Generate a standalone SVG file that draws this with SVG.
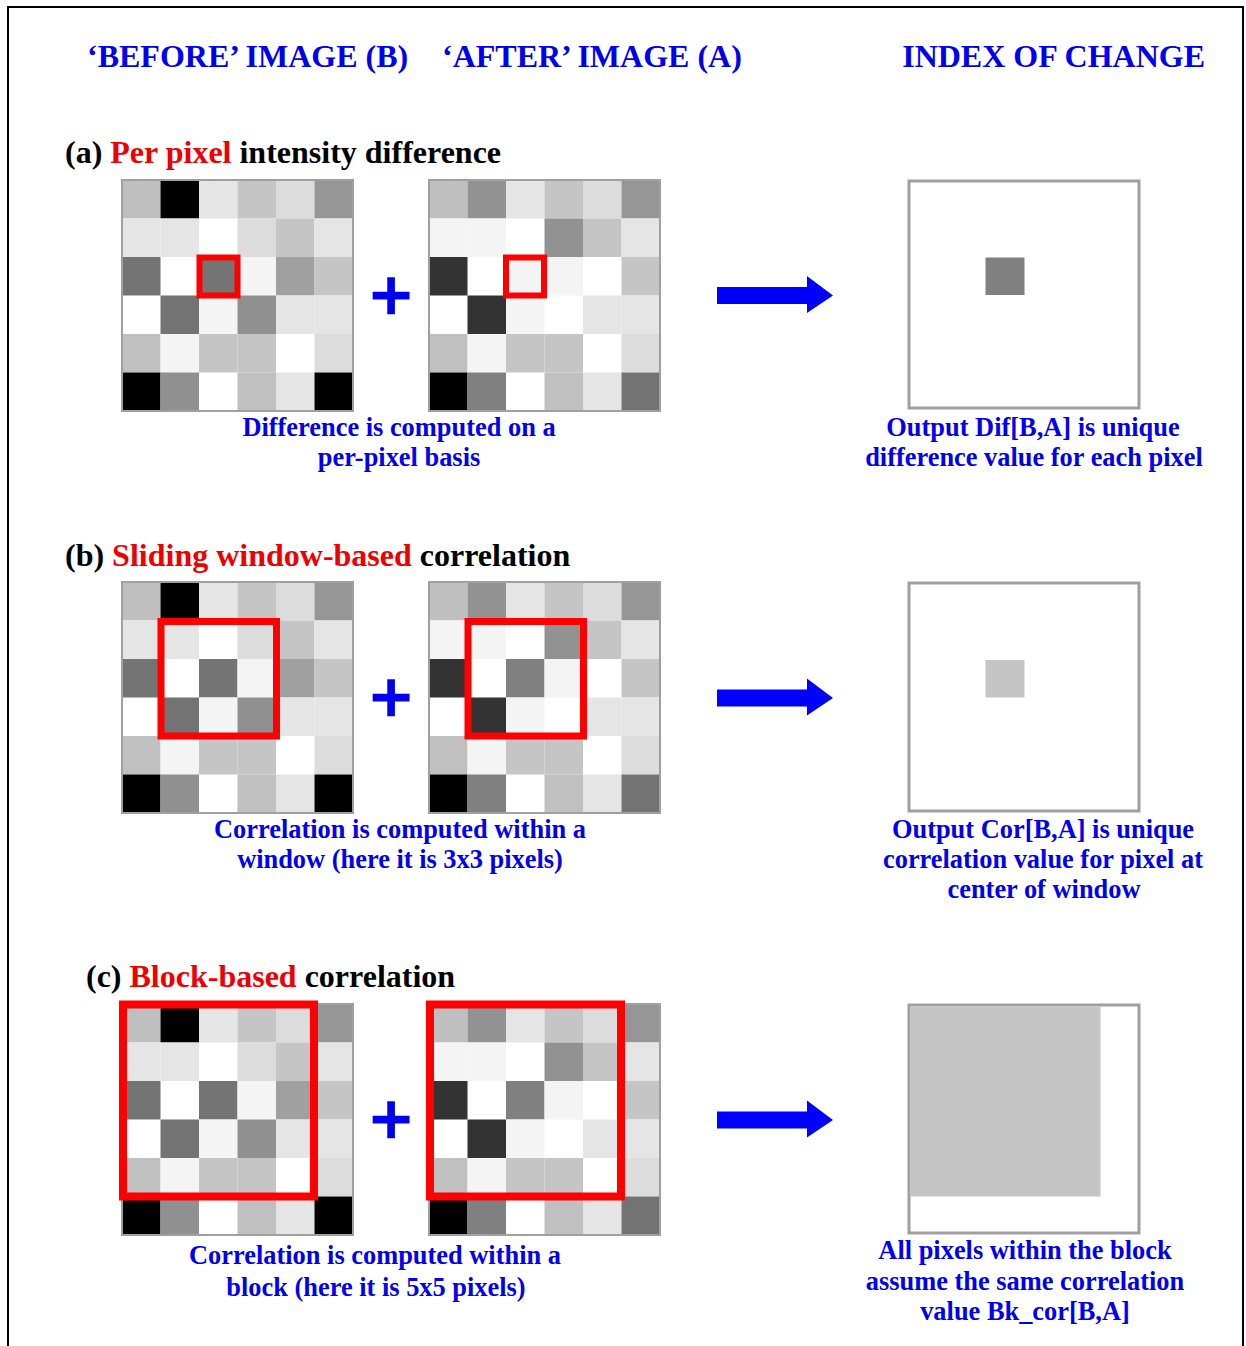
<svg xmlns="http://www.w3.org/2000/svg" xmlns:xlink="http://www.w3.org/1999/xlink" width="1246" height="1346" viewBox="0 0 1246 1346">
<style>
text{font-family:"Liberation Serif","Times New Roman",serif;font-weight:bold}
.hdr{font-size:32px;fill:#0000ee}
.ttl{font-size:32px;fill:#000}
.red{fill:#ee0000}
.cap{font-size:26.4px;fill:#0000ee;text-anchor:middle}
.plus{font-size:74px;fill:#0000ee;stroke:#0000ee;stroke-width:2.5;text-anchor:middle}
.gb{fill:none;stroke:#a0a0a0;stroke-width:2}
.win{fill:none;stroke:#ff0000}
.ob{fill:#fff;stroke:#a0a0a0;stroke-width:3}
.arr{fill:#0000ff}
</style>
<defs>
<g id="gridB">
<rect x="0" y="0" width="231" height="231" fill="#fff"/>
<rect x="0" y="0" width="38.5" height="38.5" fill="#bfbfbf"/>
<rect x="38.5" y="0" width="38.5" height="38.5" fill="#000"/>
<rect x="77" y="0" width="38.5" height="38.5" fill="#e5e5e5"/>
<rect x="115.5" y="0" width="38.5" height="38.5" fill="#c5c5c5"/>
<rect x="154" y="0" width="38.5" height="38.5" fill="#dcdcdc"/>
<rect x="192.5" y="0" width="38.5" height="38.5" fill="#969696"/>
<rect x="0" y="38.5" width="38.5" height="38.5" fill="#e5e5e5"/>
<rect x="38.5" y="38.5" width="38.5" height="38.5" fill="#e5e5e5"/>
<rect x="115.5" y="38.5" width="38.5" height="38.5" fill="#dcdcdc"/>
<rect x="154" y="38.5" width="38.5" height="38.5" fill="#c5c5c5"/>
<rect x="192.5" y="38.5" width="38.5" height="38.5" fill="#e5e5e5"/>
<rect x="0" y="77" width="38.5" height="38.5" fill="#747474"/>
<rect x="77" y="77" width="38.5" height="38.5" fill="#747474"/>
<rect x="115.5" y="77" width="38.5" height="38.5" fill="#f4f4f4"/>
<rect x="154" y="77" width="38.5" height="38.5" fill="#a0a0a0"/>
<rect x="192.5" y="77" width="38.5" height="38.5" fill="#c5c5c5"/>
<rect x="38.5" y="115.5" width="38.5" height="38.5" fill="#737373"/>
<rect x="77" y="115.5" width="38.5" height="38.5" fill="#f4f4f4"/>
<rect x="115.5" y="115.5" width="38.5" height="38.5" fill="#909090"/>
<rect x="154" y="115.5" width="38.5" height="38.5" fill="#e5e5e5"/>
<rect x="192.5" y="115.5" width="38.5" height="38.5" fill="#e5e5e5"/>
<rect x="0" y="154" width="38.5" height="38.5" fill="#c0c0c0"/>
<rect x="38.5" y="154" width="38.5" height="38.5" fill="#f4f4f4"/>
<rect x="77" y="154" width="38.5" height="38.5" fill="#c5c5c5"/>
<rect x="115.5" y="154" width="38.5" height="38.5" fill="#c5c5c5"/>
<rect x="192.5" y="154" width="38.5" height="38.5" fill="#dcdcdc"/>
<rect x="0" y="192.5" width="38.5" height="38.5" fill="#000"/>
<rect x="38.5" y="192.5" width="38.5" height="38.5" fill="#909090"/>
<rect x="115.5" y="192.5" width="38.5" height="38.5" fill="#c0c0c0"/>
<rect x="154" y="192.5" width="38.5" height="38.5" fill="#e5e5e5"/>
<rect x="192.5" y="192.5" width="38.5" height="38.5" fill="#000"/>
<rect class="gb" x="0" y="0" width="231" height="231"/>
</g>
<g id="gridA">
<rect x="0" y="0" width="231" height="231" fill="#fff"/>
<rect x="0" y="0" width="38.5" height="38.5" fill="#bfbfbf"/>
<rect x="38.5" y="0" width="38.5" height="38.5" fill="#929292"/>
<rect x="77" y="0" width="38.5" height="38.5" fill="#e5e5e5"/>
<rect x="115.5" y="0" width="38.5" height="38.5" fill="#c5c5c5"/>
<rect x="154" y="0" width="38.5" height="38.5" fill="#dcdcdc"/>
<rect x="192.5" y="0" width="38.5" height="38.5" fill="#969696"/>
<rect x="0" y="38.5" width="38.5" height="38.5" fill="#f4f4f4"/>
<rect x="38.5" y="38.5" width="38.5" height="38.5" fill="#f4f4f4"/>
<rect x="115.5" y="38.5" width="38.5" height="38.5" fill="#929292"/>
<rect x="154" y="38.5" width="38.5" height="38.5" fill="#c5c5c5"/>
<rect x="192.5" y="38.5" width="38.5" height="38.5" fill="#e5e5e5"/>
<rect x="0" y="77" width="38.5" height="38.5" fill="#333"/>
<rect x="77" y="77" width="38.5" height="38.5" fill="#808080"/>
<rect x="115.5" y="77" width="38.5" height="38.5" fill="#f4f4f4"/>
<rect x="192.5" y="77" width="38.5" height="38.5" fill="#c5c5c5"/>
<rect x="38.5" y="115.5" width="38.5" height="38.5" fill="#333"/>
<rect x="77" y="115.5" width="38.5" height="38.5" fill="#f4f4f4"/>
<rect x="154" y="115.5" width="38.5" height="38.5" fill="#e5e5e5"/>
<rect x="192.5" y="115.5" width="38.5" height="38.5" fill="#e5e5e5"/>
<rect x="0" y="154" width="38.5" height="38.5" fill="#c0c0c0"/>
<rect x="38.5" y="154" width="38.5" height="38.5" fill="#f4f4f4"/>
<rect x="77" y="154" width="38.5" height="38.5" fill="#c5c5c5"/>
<rect x="115.5" y="154" width="38.5" height="38.5" fill="#c5c5c5"/>
<rect x="192.5" y="154" width="38.5" height="38.5" fill="#dcdcdc"/>
<rect x="0" y="192.5" width="38.5" height="38.5" fill="#000"/>
<rect x="38.5" y="192.5" width="38.5" height="38.5" fill="#808080"/>
<rect x="115.5" y="192.5" width="38.5" height="38.5" fill="#c0c0c0"/>
<rect x="154" y="192.5" width="38.5" height="38.5" fill="#e5e5e5"/>
<rect x="192.5" y="192.5" width="38.5" height="38.5" fill="#737373"/>
<rect class="gb" x="0" y="0" width="231" height="231"/>
</g>
<path id="bigArrow" d="M0,-8.5 H90 V-19.5 L116,0 L90,17.5 V8.5 H0 Z"/>
</defs>

<g id="frame" fill="none" stroke="#000" stroke-width="2">
<path d="M8,1346 V7 H1243 V1346"/>
</g>

<g id="headers">
<text class="hdr" x="87" y="67">‘BEFORE’ IMAGE (B)</text>
<text class="hdr" x="442" y="67">‘AFTER’ IMAGE (A)</text>
<text class="hdr" x="1205" y="67" text-anchor="end">INDEX OF CHANGE</text>
</g>

<!-- (a) -->
<g id="title-a"><text class="ttl" x="65" y="163">(a) <tspan class="red">Per pixel</tspan> intensity difference</text></g>
<g id="before-a">
<use xlink:href="#gridB" x="122" y="180"/>
<rect class="win" stroke-width="6" x="199.5" y="257.5" width="38" height="38"/>
</g>
<g id="after-a">
<use xlink:href="#gridA" x="429" y="180"/>
<rect x="506" y="257" width="38.5" height="38.5" fill="#f4f4f4"/>
<rect class="win" stroke-width="6" x="506" y="257.5" width="38" height="38"/>
</g>
<g id="plus-a"><text class="plus" x="391" y="320">+</text></g>
<g id="caption-a-left"><text class="cap" x="399" y="436">Difference is computed on a</text><text class="cap" x="399" y="466">per-pixel basis</text></g>
<g id="output-a">
<rect class="ob" x="909" y="181" width="230" height="227"/>
<rect x="985.5" y="257.5" width="39" height="37.5" fill="#808080"/>
</g>
<g id="caption-a-right"><text class="cap" x="1033" y="436">Output Dif[B,A] is unique</text><text class="cap" x="1034" y="466">difference value for each pixel</text></g>

<!-- (b) -->
<g id="title-b"><text class="ttl" x="65" y="566">(b) <tspan class="red">Sliding window-based</tspan> correlation</text></g>
<g id="before-b">
<use xlink:href="#gridB" x="122" y="582"/>
<rect class="win" stroke-width="7" x="161" y="621.5" width="115.5" height="114.5"/>
</g>
<g id="after-b">
<use xlink:href="#gridA" x="429" y="582"/>
<rect class="win" stroke-width="7" x="468" y="621.5" width="115.5" height="114.5"/>
</g>
<g id="plus-b"><text class="plus" x="391" y="722">+</text></g>
<g id="caption-b-left"><text class="cap" x="400" y="838">Correlation is computed within a</text><text class="cap" x="400" y="868">window (here it is 3x3 pixels)</text></g>
<g id="output-b">
<rect class="ob" x="909" y="583" width="230" height="228"/>
<rect x="985.5" y="660" width="39" height="37.5" fill="#c5c5c5"/>
</g>
<g id="caption-b-right"><text class="cap" x="1043" y="838">Output Cor[B,A] is unique</text><text class="cap" x="1043" y="868">correlation value for pixel at</text><text class="cap" x="1044" y="898">center of window</text></g>

<!-- (c) -->
<g id="title-c"><text class="ttl" x="86" y="987">(c) <tspan class="red">Block-based</tspan> correlation</text></g>
<g id="before-c">
<use xlink:href="#gridB" x="122" y="1004"/>
<rect class="win" stroke-width="8" x="123" y="1004.5" width="191" height="192"/>
</g>
<g id="after-c">
<use xlink:href="#gridA" x="429" y="1004"/>
<rect class="win" stroke-width="8" x="430" y="1004.5" width="191" height="192"/>
</g>
<g id="plus-c"><text class="plus" x="391" y="1144">+</text></g>
<g id="caption-c-left"><text class="cap" x="375" y="1264">Correlation is computed within a</text><text class="cap" x="376" y="1296">block (here it is 5x5 pixels)</text></g>
<g id="output-c">
<rect class="ob" x="909" y="1005" width="230" height="228"/>
<rect x="910.5" y="1006.5" width="190" height="190" fill="#c5c5c5"/>
</g>
<g id="caption-c-right"><text class="cap" x="1025" y="1259">All pixels within the block</text><text class="cap" x="1025" y="1290">assume the same correlation</text><text class="cap" x="1025" y="1320">value Bk_cor[B,A]</text></g>

<g id="connectors">
<use xlink:href="#bigArrow" class="arr" x="717" y="295.5"/>
<use xlink:href="#bigArrow" class="arr" x="717" y="698"/>
<use xlink:href="#bigArrow" class="arr" x="717" y="1120"/>
</g>
</svg>
